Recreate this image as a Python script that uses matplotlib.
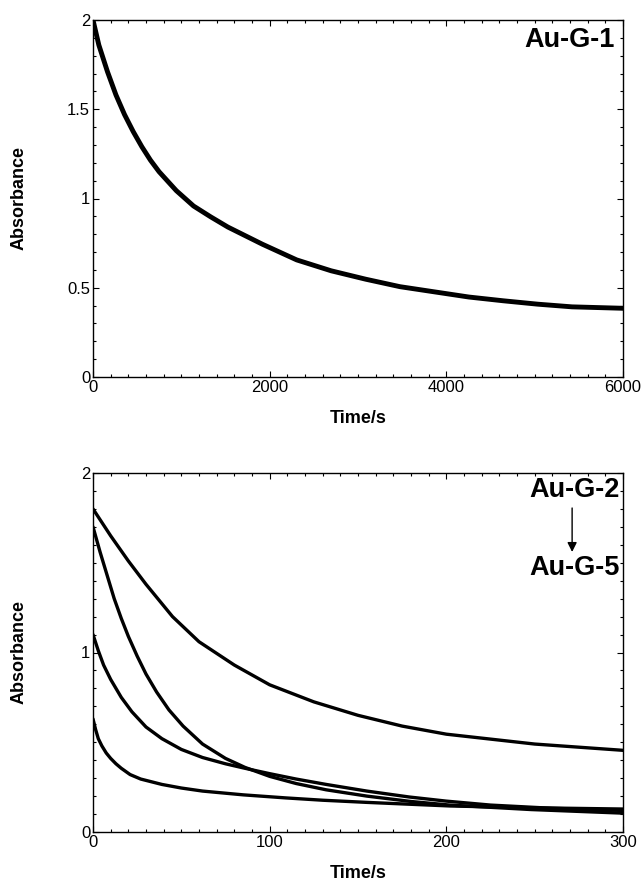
import matplotlib
matplotlib.use("Agg")
import matplotlib.pyplot as plt
from matplotlib.ticker import MultipleLocator, FormatStrFormatter

plt.rcParams['font.family'] = ['Liberation Sans', 'DejaVu Sans']

# Au-G-1 decay (top panel)
t_g1 = [0, 66, 164, 260, 357, 455, 553, 650, 748, 943, 1138, 1333, 1527,
        1917, 2306, 2696, 3086, 3475, 3865, 4255, 4644, 5034, 5423, 6000]
a_g1 = [2.00, 1.86, 1.71, 1.58, 1.47, 1.375, 1.29, 1.215, 1.15, 1.044,
        0.958, 0.897, 0.84, 0.744, 0.656, 0.595, 0.548, 0.506, 0.477,
        0.448, 0.427, 0.408, 0.393, 0.385]

# Au-G-2 .. Au-G-5 decays (bottom panel)
t_g2 = [0, 10, 20, 30, 45, 60, 80, 100, 125, 150, 175, 200, 250, 300]
a_g2 = [1.80, 1.65, 1.51, 1.38, 1.20, 1.06, 0.93, 0.82, 0.725, 0.65, 0.59,
        0.545, 0.49, 0.455]

t_g3 = [0, 4, 8, 12, 16, 20, 25, 30, 36, 43, 51, 62, 75, 86, 100, 115, 132,
        155, 180, 202, 248, 300]
a_g3 = [1.70, 1.56, 1.43, 1.30, 1.19, 1.09, 0.98, 0.88, 0.78, 0.68, 0.59,
        0.49, 0.41, 0.36, 0.31, 0.27, 0.235, 0.20, 0.17, 0.15, 0.125, 0.105]

t_g4 = [0, 3, 6, 10, 16, 22, 30, 39, 50, 62, 75, 86, 100, 115, 132, 155,
        179, 200, 225, 260, 300]
a_g4 = [1.10, 1.01, 0.93, 0.85, 0.75, 0.67, 0.585, 0.52, 0.46, 0.415, 0.38,
        0.355, 0.325, 0.295, 0.265, 0.228, 0.195, 0.172, 0.15, 0.132, 0.12]

t_g5 = [0, 1.5, 3, 5, 7.5, 10, 13, 16, 21, 27, 33, 39, 50, 62, 85, 109, 130,
        155, 202, 248, 300]
a_g5 = [0.63, 0.57, 0.52, 0.48, 0.44, 0.41, 0.38, 0.355, 0.32, 0.295, 0.28,
        0.265, 0.245, 0.228, 0.207, 0.19, 0.177, 0.165, 0.145, 0.135, 0.128]

fig = plt.figure(figsize=(6.44, 8.82), dpi=100)
ax1 = fig.add_axes([93/644, 1-377/882, 530/644, 357/882])
ax2 = fig.add_axes([93/644, 1-832/882, 530/644, 359/882])


def style(ax):
    ax.tick_params(which='both', direction='in', top=True, right=True,
                   width=0.8, labelsize=12, pad=2)
    ax.tick_params(which='major', length=4)
    ax.tick_params(which='minor', length=2.5)
    ax.yaxis.set_major_formatter(FormatStrFormatter('%g'))
    for s in ax.spines.values():
        s.set_linewidth(1.0)
    ax.set_xlabel("Time/s", fontsize=13, fontweight='bold')
    ax.set_ylabel("Absorbance", fontsize=13, fontweight='bold')
    ax.xaxis.set_label_coords(0.5, -0.092)
    ax.yaxis.set_label_coords(-0.123, 0.5)


# top panel
ax1.plot(t_g1, a_g1, color='black', lw=3.5, solid_capstyle='round',
         solid_joinstyle='round')
ax1.set_xlim(0, 6000)
ax1.set_ylim(0, 2)
ax1.xaxis.set_major_locator(MultipleLocator(2000))
ax1.xaxis.set_minor_locator(MultipleLocator(200))
ax1.yaxis.set_major_locator(MultipleLocator(0.5))
ax1.yaxis.set_minor_locator(MultipleLocator(0.1))
style(ax1)
ax1.text(0.985, 0.98, "Au-G-1", transform=ax1.transAxes, ha='right', va='top',
         fontsize=19.5, fontweight='bold')

# bottom panel
for t, a in [(t_g2, a_g2), (t_g3, a_g3), (t_g4, a_g4), (t_g5, a_g5)]:
    ax2.plot(t, a, color='black', lw=2.4, solid_capstyle='round',
             solid_joinstyle='round')
ax2.set_xlim(0, 300)
ax2.set_ylim(0, 2)
ax2.xaxis.set_major_locator(MultipleLocator(100))
ax2.xaxis.set_minor_locator(MultipleLocator(10))
ax2.yaxis.set_major_locator(MultipleLocator(1))
ax2.yaxis.set_minor_locator(MultipleLocator(0.1))
style(ax2)
ax2.text(0.994, 0.989, "Au-G-2", transform=ax2.transAxes, ha='right', va='top',
         fontsize=19.5, fontweight='bold')
ax2.text(0.994, 0.772, "Au-G-5", transform=ax2.transAxes, ha='right', va='top',
         fontsize=19.5, fontweight='bold')
ax2.annotate("", xy=(0.904, 0.78), xytext=(0.904, 0.9025),
             xycoords='axes fraction', textcoords='axes fraction',
             arrowprops=dict(arrowstyle='-|>', color='black', lw=1.0,
                             mutation_scale=14, shrinkA=0, shrinkB=0))

fig.savefig("out.png", dpi=100)
